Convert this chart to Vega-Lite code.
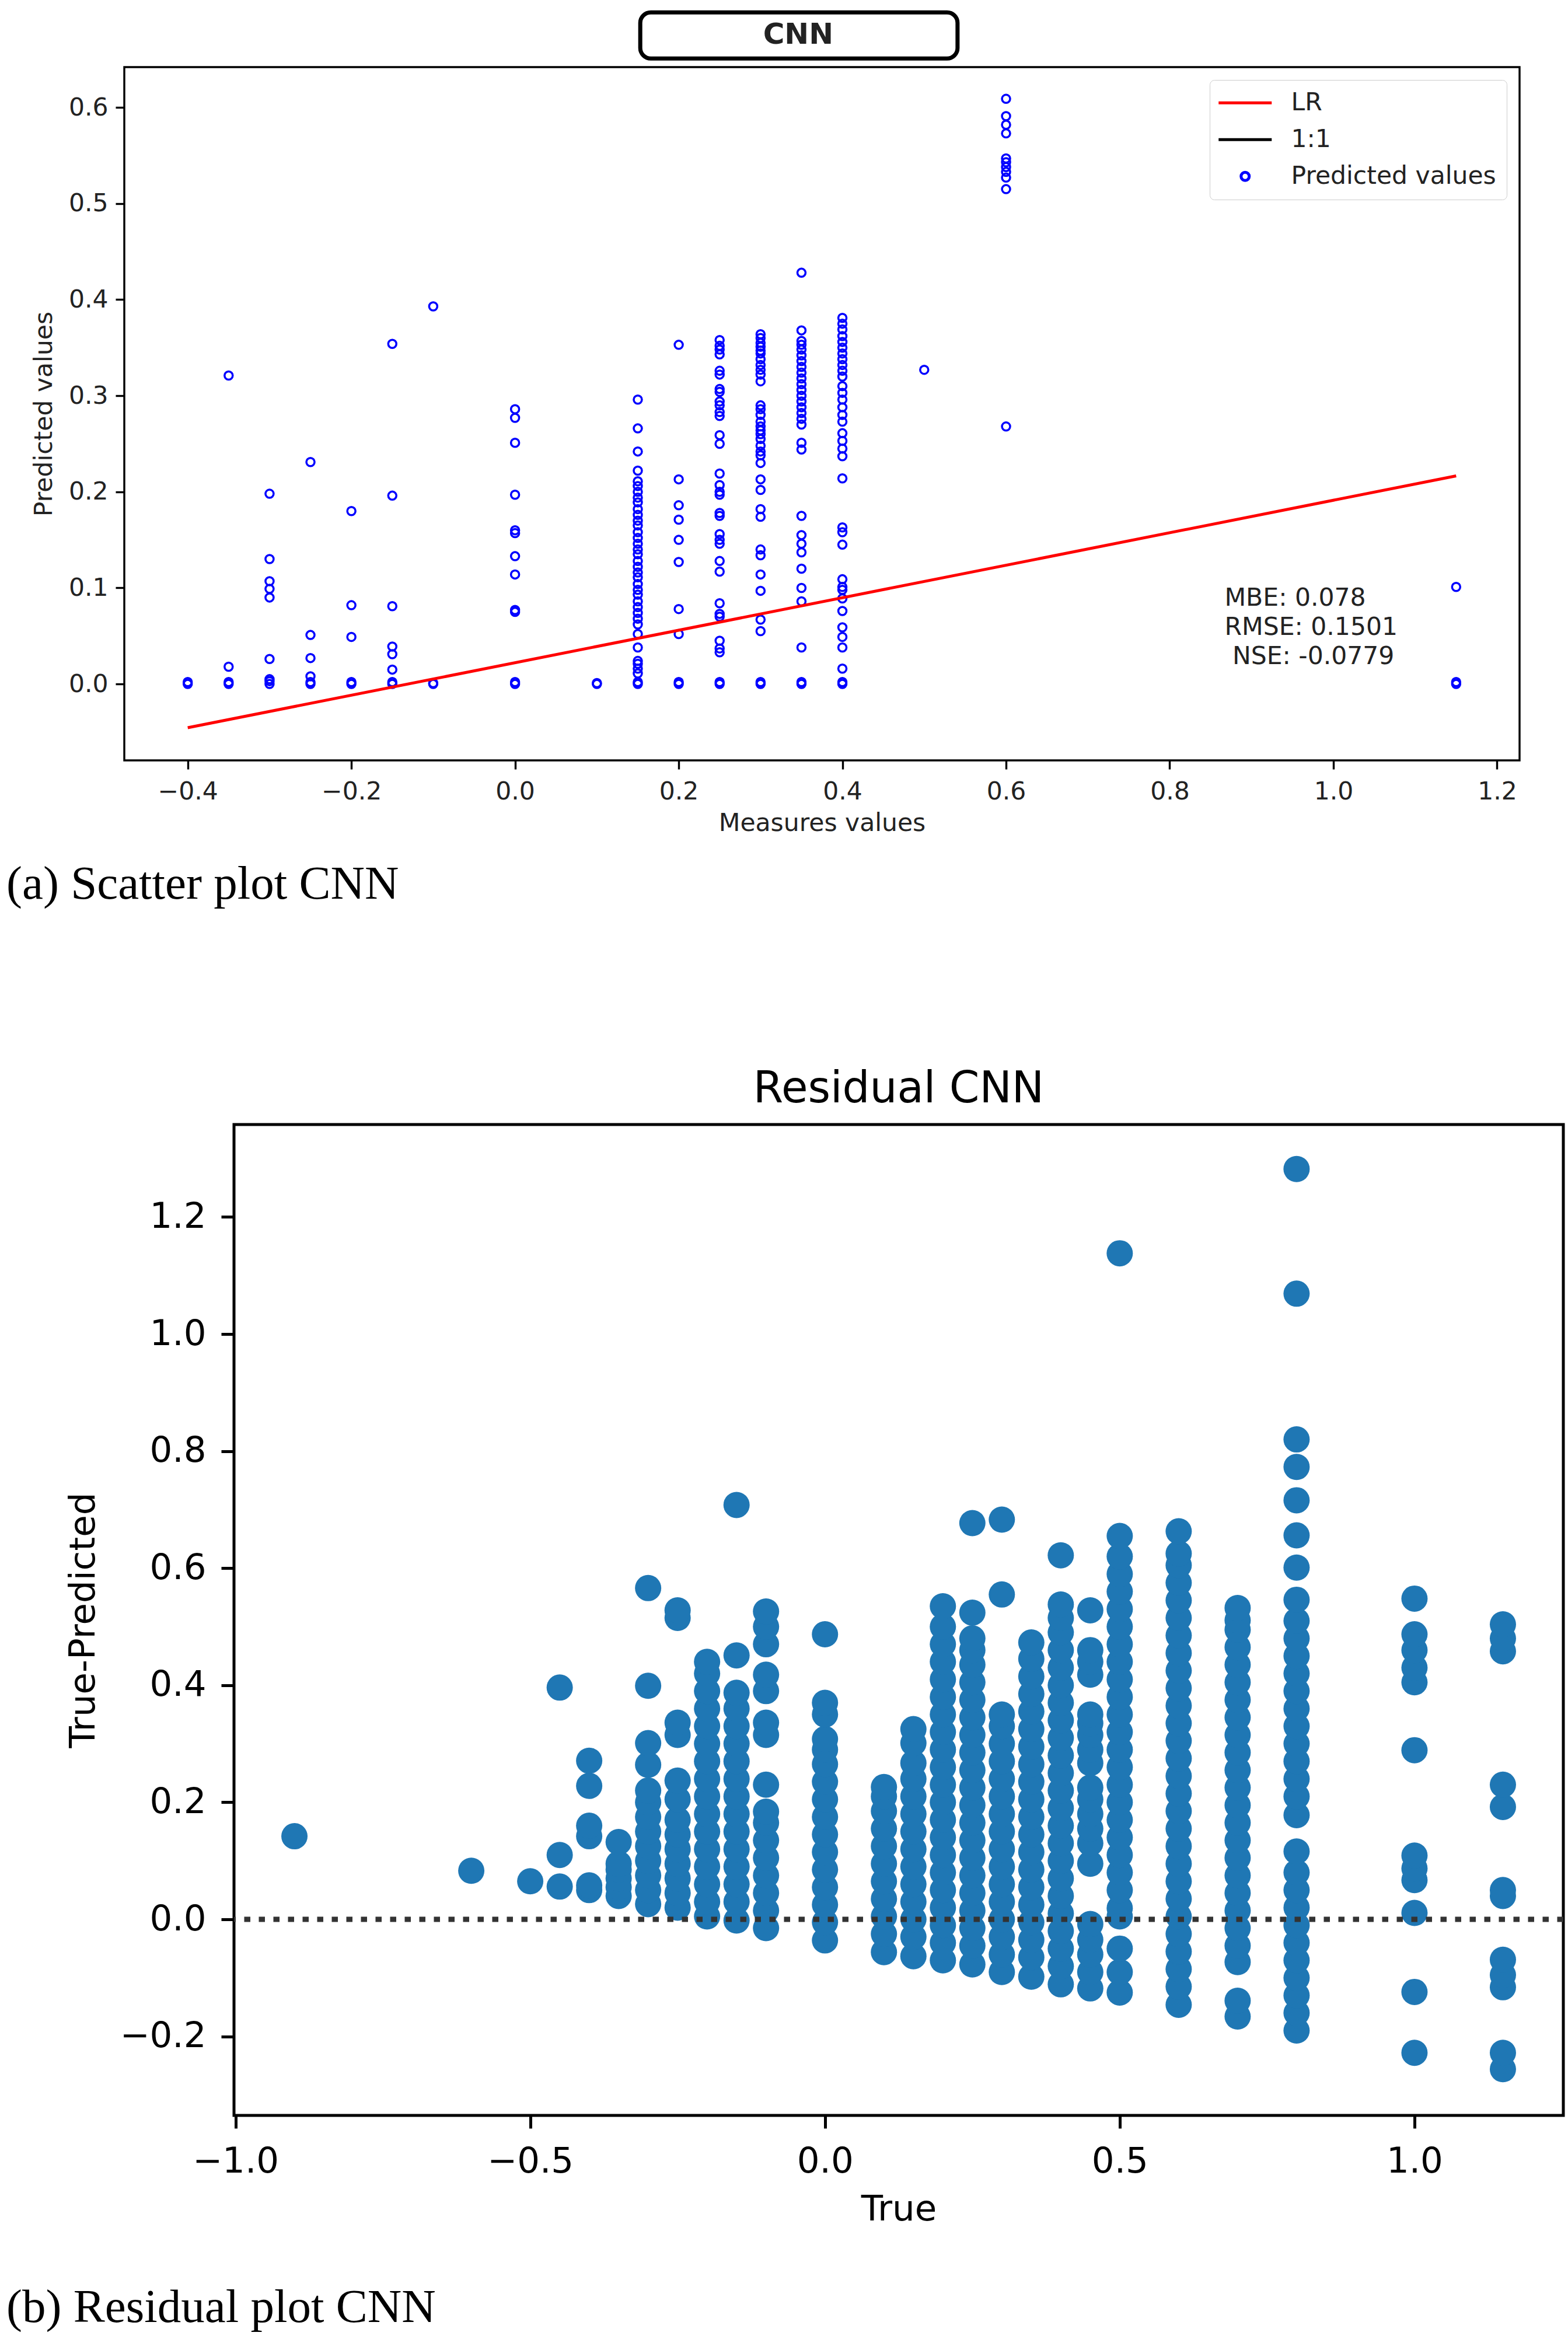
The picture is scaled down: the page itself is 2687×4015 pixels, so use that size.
{
  "$schema": "https://vega.github.io/schema/vega-lite/v6.json",
  "background": "white",
  "padding": {"left": 11, "top": 15, "right": 5, "bottom": 5},
  "config": {
    "font": "DejaVu Sans",
    "title": {"font": "DejaVu Sans", "fontWeight": "normal", "color": "black"}
  },
  "spacing": 271,
  "vconcat": [
    {
      "title": {"text": "(a) Scatter plot CNN", "orient": "bottom", "anchor": "start", "frame": "bounds", "font": "Liberation Serif", "fontSize": 81, "fontWeight": "normal", "color": "black", "baseline": "alphabetic", "offset": 106},
      "spacing": 0,
      "resolve": {"scale": {"color": "independent", "shape": "independent"}, "legend": {"color": "independent", "shape": "independent"}},
      "hconcat": [
        {"width": 41, "height": 1, "data": {"values": []}, "mark": "point", "view": {"stroke": null}},
        {
          "width": 2391,
          "height": 1188,
          "view": {"stroke": "black", "strokeWidth": 3.4, "fill": "white"},
          "layer": [
            {
              "data": {"values": [{}]},
              "mark": {"type": "rect", "fill": "white", "stroke": "black", "strokeWidth": 7, "cornerRadius": 18, "clip": false},
              "encoding": {
                "x": {"datum": 0.153, "type": "quantitative", "scale": {"domain": [-0.4775, 1.2275], "nice": false, "zero": false}},
                "x2": {"datum": 0.5407},
                "y": {"datum": 0.699, "type": "quantitative", "scale": {"domain": [-0.0795, 0.642], "nice": false, "zero": false}},
                "y2": {"datum": 0.651}
              }
            },
            {
              "data": {"values": [{}]},
              "mark": {"type": "text", "text": "CNN", "fontWeight": "bold", "fontSize": 50, "align": "center", "baseline": "alphabetic", "color": "#222222", "clip": false},
              "encoding": {
                "x": {"datum": 0.346, "type": "quantitative"},
                "y": {"datum": 0.6663, "type": "quantitative"}
              }
            },
            {
              "data": {
                "values": [
                  {"measured": -0.4, "predicted": 0}, {"measured": -0.4, "predicted": 0.002},
                  {"measured": -0.35, "predicted": 0}, {"measured": -0.35, "predicted": 0.002}, {"measured": -0.35, "predicted": 0.018}, {"measured": -0.35, "predicted": 0.321},
                  {"measured": -0.3, "predicted": 0}, {"measured": -0.3, "predicted": 0.003}, {"measured": -0.3, "predicted": 0.005}, {"measured": -0.3, "predicted": 0.026}, {"measured": -0.3, "predicted": 0.09}, {"measured": -0.3, "predicted": 0.099}, {"measured": -0.3, "predicted": 0.107}, {"measured": -0.3, "predicted": 0.13}, {"measured": -0.3, "predicted": 0.198},
                  {"measured": -0.25, "predicted": 0}, {"measured": -0.25, "predicted": 0.002}, {"measured": -0.25, "predicted": 0.008}, {"measured": -0.25, "predicted": 0.027}, {"measured": -0.25, "predicted": 0.051}, {"measured": -0.25, "predicted": 0.231},
                  {"measured": -0.2, "predicted": 0}, {"measured": -0.2, "predicted": 0.002}, {"measured": -0.2, "predicted": 0.049}, {"measured": -0.2, "predicted": 0.082}, {"measured": -0.2, "predicted": 0.18},
                  {"measured": -0.15, "predicted": 0}, {"measured": -0.15, "predicted": 0.002}, {"measured": -0.15, "predicted": 0.015}, {"measured": -0.15, "predicted": 0.031}, {"measured": -0.15, "predicted": 0.039}, {"measured": -0.15, "predicted": 0.081}, {"measured": -0.15, "predicted": 0.196}, {"measured": -0.15, "predicted": 0.354},
                  {"measured": -0.1, "predicted": 0}, {"measured": -0.1, "predicted": 0.001}, {"measured": -0.1, "predicted": 0.393},
                  {"measured": 0.0, "predicted": 0}, {"measured": 0.0, "predicted": 0.002}, {"measured": 0.0, "predicted": 0.075}, {"measured": 0.0, "predicted": 0.077}, {"measured": 0.0, "predicted": 0.114}, {"measured": 0.0, "predicted": 0.133}, {"measured": 0.0, "predicted": 0.157}, {"measured": 0.0, "predicted": 0.16}, {"measured": 0.0, "predicted": 0.197}, {"measured": 0.0, "predicted": 0.251}, {"measured": 0.0, "predicted": 0.277}, {"measured": 0.0, "predicted": 0.286},
                  {"measured": 0.1, "predicted": 0}, {"measured": 0.1, "predicted": 0.001},
                  {"measured": 0.15, "predicted": 0}, {"measured": 0.15, "predicted": 0.002}, {"measured": 0.15, "predicted": 0.011}, {"measured": 0.15, "predicted": 0.016}, {"measured": 0.15, "predicted": 0.021}, {"measured": 0.15, "predicted": 0.024}, {"measured": 0.15, "predicted": 0.038}, {"measured": 0.15, "predicted": 0.052}, {"measured": 0.15, "predicted": 0.062}, {"measured": 0.15, "predicted": 0.068}, {"measured": 0.15, "predicted": 0.074}, {"measured": 0.15, "predicted": 0.08}, {"measured": 0.15, "predicted": 0.086}, {"measured": 0.15, "predicted": 0.093}, {"measured": 0.15, "predicted": 0.098}, {"measured": 0.15, "predicted": 0.104}, {"measured": 0.15, "predicted": 0.111}, {"measured": 0.15, "predicted": 0.116}, {"measured": 0.15, "predicted": 0.122}, {"measured": 0.15, "predicted": 0.128}, {"measured": 0.15, "predicted": 0.135}, {"measured": 0.15, "predicted": 0.14}, {"measured": 0.15, "predicted": 0.146}, {"measured": 0.15, "predicted": 0.152}, {"measured": 0.15, "predicted": 0.158}, {"measured": 0.15, "predicted": 0.165}, {"measured": 0.15, "predicted": 0.17}, {"measured": 0.15, "predicted": 0.176}, {"measured": 0.15, "predicted": 0.182}, {"measured": 0.15, "predicted": 0.189}, {"measured": 0.15, "predicted": 0.194}, {"measured": 0.15, "predicted": 0.2}, {"measured": 0.15, "predicted": 0.206}, {"measured": 0.15, "predicted": 0.211}, {"measured": 0.15, "predicted": 0.222}, {"measured": 0.15, "predicted": 0.242}, {"measured": 0.15, "predicted": 0.266}, {"measured": 0.15, "predicted": 0.296},
                  {"measured": 0.2, "predicted": 0}, {"measured": 0.2, "predicted": 0.002}, {"measured": 0.2, "predicted": 0.052}, {"measured": 0.2, "predicted": 0.078}, {"measured": 0.2, "predicted": 0.127}, {"measured": 0.2, "predicted": 0.15}, {"measured": 0.2, "predicted": 0.171}, {"measured": 0.2, "predicted": 0.186}, {"measured": 0.2, "predicted": 0.213}, {"measured": 0.2, "predicted": 0.353},
                  {"measured": 0.25, "predicted": 0}, {"measured": 0.25, "predicted": 0.002}, {"measured": 0.25, "predicted": 0.033}, {"measured": 0.25, "predicted": 0.037}, {"measured": 0.25, "predicted": 0.045}, {"measured": 0.25, "predicted": 0.07}, {"measured": 0.25, "predicted": 0.073}, {"measured": 0.25, "predicted": 0.084}, {"measured": 0.25, "predicted": 0.117}, {"measured": 0.25, "predicted": 0.128}, {"measured": 0.25, "predicted": 0.146}, {"measured": 0.25, "predicted": 0.15}, {"measured": 0.25, "predicted": 0.156}, {"measured": 0.25, "predicted": 0.175}, {"measured": 0.25, "predicted": 0.178}, {"measured": 0.25, "predicted": 0.197}, {"measured": 0.25, "predicted": 0.2}, {"measured": 0.25, "predicted": 0.207}, {"measured": 0.25, "predicted": 0.219}, {"measured": 0.25, "predicted": 0.25}, {"measured": 0.25, "predicted": 0.259}, {"measured": 0.25, "predicted": 0.279}, {"measured": 0.25, "predicted": 0.283}, {"measured": 0.25, "predicted": 0.29}, {"measured": 0.25, "predicted": 0.294}, {"measured": 0.25, "predicted": 0.304}, {"measured": 0.25, "predicted": 0.307}, {"measured": 0.25, "predicted": 0.322}, {"measured": 0.25, "predicted": 0.326}, {"measured": 0.25, "predicted": 0.343}, {"measured": 0.25, "predicted": 0.348}, {"measured": 0.25, "predicted": 0.352}, {"measured": 0.25, "predicted": 0.358},
                  {"measured": 0.3, "predicted": 0}, {"measured": 0.3, "predicted": 0.002}, {"measured": 0.3, "predicted": 0.055}, {"measured": 0.3, "predicted": 0.067}, {"measured": 0.3, "predicted": 0.097}, {"measured": 0.3, "predicted": 0.114}, {"measured": 0.3, "predicted": 0.134}, {"measured": 0.3, "predicted": 0.14}, {"measured": 0.3, "predicted": 0.174}, {"measured": 0.3, "predicted": 0.182}, {"measured": 0.3, "predicted": 0.202}, {"measured": 0.3, "predicted": 0.213}, {"measured": 0.3, "predicted": 0.23}, {"measured": 0.3, "predicted": 0.238}, {"measured": 0.3, "predicted": 0.242}, {"measured": 0.3, "predicted": 0.248}, {"measured": 0.3, "predicted": 0.255}, {"measured": 0.3, "predicted": 0.26}, {"measured": 0.3, "predicted": 0.264}, {"measured": 0.3, "predicted": 0.268}, {"measured": 0.3, "predicted": 0.273}, {"measured": 0.3, "predicted": 0.28}, {"measured": 0.3, "predicted": 0.286}, {"measured": 0.3, "predicted": 0.29}, {"measured": 0.3, "predicted": 0.315}, {"measured": 0.3, "predicted": 0.322}, {"measured": 0.3, "predicted": 0.327}, {"measured": 0.3, "predicted": 0.332}, {"measured": 0.3, "predicted": 0.338}, {"measured": 0.3, "predicted": 0.344}, {"measured": 0.3, "predicted": 0.347}, {"measured": 0.3, "predicted": 0.351}, {"measured": 0.3, "predicted": 0.355}, {"measured": 0.3, "predicted": 0.36}, {"measured": 0.3, "predicted": 0.364},
                  {"measured": 0.35, "predicted": 0}, {"measured": 0.35, "predicted": 0.002}, {"measured": 0.35, "predicted": 0.038}, {"measured": 0.35, "predicted": 0.086}, {"measured": 0.35, "predicted": 0.1}, {"measured": 0.35, "predicted": 0.12}, {"measured": 0.35, "predicted": 0.137}, {"measured": 0.35, "predicted": 0.146}, {"measured": 0.35, "predicted": 0.155}, {"measured": 0.35, "predicted": 0.175}, {"measured": 0.35, "predicted": 0.244}, {"measured": 0.35, "predicted": 0.251}, {"measured": 0.35, "predicted": 0.27}, {"measured": 0.35, "predicted": 0.276}, {"measured": 0.35, "predicted": 0.282}, {"measured": 0.35, "predicted": 0.288}, {"measured": 0.35, "predicted": 0.294}, {"measured": 0.35, "predicted": 0.3}, {"measured": 0.35, "predicted": 0.306}, {"measured": 0.35, "predicted": 0.312}, {"measured": 0.35, "predicted": 0.318}, {"measured": 0.35, "predicted": 0.324}, {"measured": 0.35, "predicted": 0.33}, {"measured": 0.35, "predicted": 0.336}, {"measured": 0.35, "predicted": 0.342}, {"measured": 0.35, "predicted": 0.348}, {"measured": 0.35, "predicted": 0.353}, {"measured": 0.35, "predicted": 0.357}, {"measured": 0.35, "predicted": 0.368}, {"measured": 0.35, "predicted": 0.428},
                  {"measured": 0.4, "predicted": 0}, {"measured": 0.4, "predicted": 0.002}, {"measured": 0.4, "predicted": 0.016}, {"measured": 0.4, "predicted": 0.038}, {"measured": 0.4, "predicted": 0.049}, {"measured": 0.4, "predicted": 0.059}, {"measured": 0.4, "predicted": 0.076}, {"measured": 0.4, "predicted": 0.089}, {"measured": 0.4, "predicted": 0.098}, {"measured": 0.4, "predicted": 0.101}, {"measured": 0.4, "predicted": 0.109}, {"measured": 0.4, "predicted": 0.145}, {"measured": 0.4, "predicted": 0.158}, {"measured": 0.4, "predicted": 0.163}, {"measured": 0.4, "predicted": 0.214}, {"measured": 0.4, "predicted": 0.237}, {"measured": 0.4, "predicted": 0.245}, {"measured": 0.4, "predicted": 0.253}, {"measured": 0.4, "predicted": 0.261}, {"measured": 0.4, "predicted": 0.273}, {"measured": 0.4, "predicted": 0.28}, {"measured": 0.4, "predicted": 0.288}, {"measured": 0.4, "predicted": 0.296}, {"measured": 0.4, "predicted": 0.303}, {"measured": 0.4, "predicted": 0.31}, {"measured": 0.4, "predicted": 0.32}, {"measured": 0.4, "predicted": 0.326}, {"measured": 0.4, "predicted": 0.332}, {"measured": 0.4, "predicted": 0.338}, {"measured": 0.4, "predicted": 0.344}, {"measured": 0.4, "predicted": 0.35}, {"measured": 0.4, "predicted": 0.356}, {"measured": 0.4, "predicted": 0.362}, {"measured": 0.4, "predicted": 0.369}, {"measured": 0.4, "predicted": 0.375}, {"measured": 0.4, "predicted": 0.381},
                  {"measured": 0.5, "predicted": 0.327},
                  {"measured": 0.6, "predicted": 0.268}, {"measured": 0.6, "predicted": 0.515}, {"measured": 0.6, "predicted": 0.527}, {"measured": 0.6, "predicted": 0.533}, {"measured": 0.6, "predicted": 0.538}, {"measured": 0.6, "predicted": 0.543}, {"measured": 0.6, "predicted": 0.547}, {"measured": 0.6, "predicted": 0.573}, {"measured": 0.6, "predicted": 0.582}, {"measured": 0.6, "predicted": 0.591}, {"measured": 0.6, "predicted": 0.609},
                  {"measured": 1.15, "predicted": 0}, {"measured": 1.15, "predicted": 0.002}, {"measured": 1.15, "predicted": 0.101}
                ]
              },
              "mark": {"type": "point", "filled": false, "size": 196, "strokeWidth": 3.5, "opacity": 1},
              "encoding": {
                "x": {
                  "field": "measured", "type": "quantitative",
                  "scale": {"domain": [-0.4775, 1.2275], "nice": false, "zero": false},
                  "axis": {"title": "Measures values", "values": [-0.4, -0.2, 0, 0.2, 0.4, 0.6, 0.8, 1.0, 1.2], "format": ".1f", "grid": false, "domain": false, "labelFlush": false, "labelOverlap": false, "tickSize": 15, "tickWidth": 3.4, "tickColor": "black", "labelFontSize": 42.5, "labelPadding": 17, "labelColor": "#222222", "titleFontSize": 42.5, "titleFontWeight": "normal", "titleColor": "#222222", "titlePadding": 12}
                },
                "y": {
                  "field": "predicted", "type": "quantitative",
                  "scale": {"domain": [-0.0795, 0.642], "nice": false, "zero": false},
                  "axis": {"title": "Predicted values", "values": [0, 0.1, 0.2, 0.3, 0.4, 0.5, 0.6], "format": ".1f", "grid": false, "domain": false, "labelFlush": false, "labelOverlap": false, "tickSize": 15, "tickWidth": 3.4, "tickColor": "black", "labelFontSize": 42.5, "labelPadding": 13, "labelColor": "#222222", "titleFontSize": 42.5, "titleFontWeight": "normal", "titleColor": "#222222", "titlePadding": 20}
                },
                "color": {
                  "datum": "Predicted values", "type": "nominal",
                  "scale": {"domain": ["LR", "1:1", "Predicted values"], "range": ["#ff0000", "#000000", "#0000ff"]},
                  "legend": {
                    "title": null, "orient": "top-right", "offset": 22,
                    "padding": 18, "rowPadding": 20, "symbolOffset": 21.5, "labelOffset": 57.5, "labelLimit": 0, "labelFontSize": 42.5, "labelColor": "#222222", "labelFont": "DejaVu Sans",
                    "symbolSize": 196, "symbolStrokeWidth": 5, "symbolFillColor": "transparent",
                    "strokeColor": "#cccccc", "fillColor": "rgba(255,255,255,0.85)", "cornerRadius": 8
                  }
                },
                "shape": {
                  "datum": "Predicted values", "type": "nominal",
                  "scale": {"domain": ["LR", "1:1", "Predicted values"], "range": ["M-6.5,0H6.5", "M-6.5,0H6.5", "circle"]},
                  "legend": {"title": null, "orient": "top-right"}
                }
              }
            },
            {
              "data": {"values": [{"measured": -0.4, "predicted": -0.0455}, {"measured": 1.15, "predicted": 0.2166}]},
              "mark": {"type": "line", "strokeWidth": 5},
              "encoding": {
                "x": {"field": "measured", "type": "quantitative"},
                "y": {"field": "predicted", "type": "quantitative"},
                "color": {"datum": "LR", "type": "nominal"}
              }
            },
            {
              "data": {"values": [{}]},
              "mark": {"type": "text", "text": "MBE: 0.078\nRMSE: 0.1501", "lineBreak": "\n", "lineHeight": 50, "fontSize": 42.5, "align": "left", "baseline": "alphabetic", "color": "#222222"},
              "encoding": {
                "x": {"datum": 0.867, "type": "quantitative"},
                "y": {"datum": 0.0813, "type": "quantitative"}
              }
            },
            {
              "data": {"values": [{}]},
              "mark": {"type": "text", "text": "NSE: -0.0779", "fontSize": 42.5, "align": "left", "baseline": "alphabetic", "color": "#222222"},
              "encoding": {
                "x": {"datum": 0.8766, "type": "quantitative"},
                "y": {"datum": 0.0206, "type": "quantitative"}
              }
            }
          ]
        }
      ]
    },
    {
      "title": {"text": "(b) Residual plot CNN", "orient": "bottom", "anchor": "start", "frame": "bounds", "font": "Liberation Serif", "fontSize": 81, "fontWeight": "normal", "color": "black", "baseline": "alphabetic", "offset": 160},
      "spacing": 0,
      "hconcat": [
        {"width": 99, "height": 1, "data": {"values": []}, "mark": "point", "view": {"stroke": null}},
        {
          "width": 2278,
          "height": 1698,
          "title": {"text": "Residual CNN", "fontSize": 74, "fontWeight": "normal", "color": "black", "offset": 22, "anchor": "middle"},
          "view": {"stroke": "black", "strokeWidth": 5, "fill": "white"},
          "layer": [
            {
              "data": {
                "values": [
                  {"true": -0.9, "residual": 0.142},
                  {"true": -0.6, "residual": 0.083},
                  {"true": -0.5, "residual": 0.065},
                  {"true": -0.45, "residual": 0.056}, {"true": -0.45, "residual": 0.11}, {"true": -0.45, "residual": 0.396},
                  {"true": -0.4, "residual": 0.05}, {"true": -0.4, "residual": 0.058}, {"true": -0.4, "residual": 0.142}, {"true": -0.4, "residual": 0.16}, {"true": -0.4, "residual": 0.228}, {"true": -0.4, "residual": 0.271},
                  {"true": -0.35, "residual": 0.04}, {"true": -0.35, "residual": 0.055}, {"true": -0.35, "residual": 0.07}, {"true": -0.35, "residual": 0.085}, {"true": -0.35, "residual": 0.095}, {"true": -0.35, "residual": 0.132},
                  {"true": -0.3, "residual": 0.026}, {"true": -0.3, "residual": 0.05}, {"true": -0.3, "residual": 0.075}, {"true": -0.3, "residual": 0.1}, {"true": -0.3, "residual": 0.125}, {"true": -0.3, "residual": 0.15}, {"true": -0.3, "residual": 0.175}, {"true": -0.3, "residual": 0.2}, {"true": -0.3, "residual": 0.22}, {"true": -0.3, "residual": 0.264}, {"true": -0.3, "residual": 0.301}, {"true": -0.3, "residual": 0.399}, {"true": -0.3, "residual": 0.566},
                  {"true": -0.25, "residual": 0.02}, {"true": -0.25, "residual": 0.045}, {"true": -0.25, "residual": 0.07}, {"true": -0.25, "residual": 0.095}, {"true": -0.25, "residual": 0.12}, {"true": -0.25, "residual": 0.145}, {"true": -0.25, "residual": 0.17}, {"true": -0.25, "residual": 0.205}, {"true": -0.25, "residual": 0.237}, {"true": -0.25, "residual": 0.315}, {"true": -0.25, "residual": 0.336}, {"true": -0.25, "residual": 0.515}, {"true": -0.25, "residual": 0.528},
                  {"true": -0.2, "residual": 0.005}, {"true": -0.2, "residual": 0.03}, {"true": -0.2, "residual": 0.06}, {"true": -0.2, "residual": 0.09}, {"true": -0.2, "residual": 0.12}, {"true": -0.2, "residual": 0.15}, {"true": -0.2, "residual": 0.18}, {"true": -0.2, "residual": 0.21}, {"true": -0.2, "residual": 0.24}, {"true": -0.2, "residual": 0.27}, {"true": -0.2, "residual": 0.3}, {"true": -0.2, "residual": 0.33}, {"true": -0.2, "residual": 0.36}, {"true": -0.2, "residual": 0.39}, {"true": -0.2, "residual": 0.42}, {"true": -0.2, "residual": 0.44},
                  {"true": -0.15, "residual": -0.002}, {"true": -0.15, "residual": 0.03}, {"true": -0.15, "residual": 0.06}, {"true": -0.15, "residual": 0.09}, {"true": -0.15, "residual": 0.12}, {"true": -0.15, "residual": 0.15}, {"true": -0.15, "residual": 0.18}, {"true": -0.15, "residual": 0.21}, {"true": -0.15, "residual": 0.24}, {"true": -0.15, "residual": 0.27}, {"true": -0.15, "residual": 0.3}, {"true": -0.15, "residual": 0.33}, {"true": -0.15, "residual": 0.36}, {"true": -0.15, "residual": 0.387}, {"true": -0.15, "residual": 0.451}, {"true": -0.15, "residual": 0.708},
                  {"true": -0.1, "residual": -0.015}, {"true": -0.1, "residual": 0.015}, {"true": -0.1, "residual": 0.045}, {"true": -0.1, "residual": 0.075}, {"true": -0.1, "residual": 0.105}, {"true": -0.1, "residual": 0.135}, {"true": -0.1, "residual": 0.165}, {"true": -0.1, "residual": 0.184}, {"true": -0.1, "residual": 0.23}, {"true": -0.1, "residual": 0.315}, {"true": -0.1, "residual": 0.336}, {"true": -0.1, "residual": 0.39}, {"true": -0.1, "residual": 0.418}, {"true": -0.1, "residual": 0.47}, {"true": -0.1, "residual": 0.5}, {"true": -0.1, "residual": 0.526},
                  {"true": 0.0, "residual": -0.036}, {"true": 0.0, "residual": -0.005}, {"true": 0.0, "residual": 0.025}, {"true": 0.0, "residual": 0.055}, {"true": 0.0, "residual": 0.085}, {"true": 0.0, "residual": 0.115}, {"true": 0.0, "residual": 0.145}, {"true": 0.0, "residual": 0.175}, {"true": 0.0, "residual": 0.205}, {"true": 0.0, "residual": 0.235}, {"true": 0.0, "residual": 0.265}, {"true": 0.0, "residual": 0.29}, {"true": 0.0, "residual": 0.308}, {"true": 0.0, "residual": 0.35}, {"true": 0.0, "residual": 0.37}, {"true": 0.0, "residual": 0.487},
                  {"true": 0.1, "residual": -0.056}, {"true": 0.1, "residual": -0.025}, {"true": 0.1, "residual": 0.005}, {"true": 0.1, "residual": 0.035}, {"true": 0.1, "residual": 0.065}, {"true": 0.1, "residual": 0.095}, {"true": 0.1, "residual": 0.125}, {"true": 0.1, "residual": 0.155}, {"true": 0.1, "residual": 0.185}, {"true": 0.1, "residual": 0.21}, {"true": 0.1, "residual": 0.226},
                  {"true": 0.15, "residual": -0.063}, {"true": 0.15, "residual": -0.03}, {"true": 0.15, "residual": 0.0}, {"true": 0.15, "residual": 0.03}, {"true": 0.15, "residual": 0.06}, {"true": 0.15, "residual": 0.09}, {"true": 0.15, "residual": 0.12}, {"true": 0.15, "residual": 0.15}, {"true": 0.15, "residual": 0.18}, {"true": 0.15, "residual": 0.21}, {"true": 0.15, "residual": 0.24}, {"true": 0.15, "residual": 0.267}, {"true": 0.15, "residual": 0.301}, {"true": 0.15, "residual": 0.325},
                  {"true": 0.2, "residual": -0.07}, {"true": 0.2, "residual": -0.04}, {"true": 0.2, "residual": -0.01}, {"true": 0.2, "residual": 0.02}, {"true": 0.2, "residual": 0.05}, {"true": 0.2, "residual": 0.08}, {"true": 0.2, "residual": 0.11}, {"true": 0.2, "residual": 0.14}, {"true": 0.2, "residual": 0.17}, {"true": 0.2, "residual": 0.2}, {"true": 0.2, "residual": 0.23}, {"true": 0.2, "residual": 0.26}, {"true": 0.2, "residual": 0.29}, {"true": 0.2, "residual": 0.32}, {"true": 0.2, "residual": 0.35}, {"true": 0.2, "residual": 0.38}, {"true": 0.2, "residual": 0.41}, {"true": 0.2, "residual": 0.44}, {"true": 0.2, "residual": 0.47}, {"true": 0.2, "residual": 0.5}, {"true": 0.2, "residual": 0.535},
                  {"true": 0.25, "residual": -0.077}, {"true": 0.25, "residual": -0.045}, {"true": 0.25, "residual": -0.015}, {"true": 0.25, "residual": 0.015}, {"true": 0.25, "residual": 0.045}, {"true": 0.25, "residual": 0.075}, {"true": 0.25, "residual": 0.105}, {"true": 0.25, "residual": 0.135}, {"true": 0.25, "residual": 0.165}, {"true": 0.25, "residual": 0.195}, {"true": 0.25, "residual": 0.225}, {"true": 0.25, "residual": 0.255}, {"true": 0.25, "residual": 0.285}, {"true": 0.25, "residual": 0.315}, {"true": 0.25, "residual": 0.345}, {"true": 0.25, "residual": 0.375}, {"true": 0.25, "residual": 0.405}, {"true": 0.25, "residual": 0.435}, {"true": 0.25, "residual": 0.46}, {"true": 0.25, "residual": 0.48}, {"true": 0.25, "residual": 0.524}, {"true": 0.25, "residual": 0.677},
                  {"true": 0.3, "residual": -0.09}, {"true": 0.3, "residual": -0.06}, {"true": 0.3, "residual": -0.03}, {"true": 0.3, "residual": 0.0}, {"true": 0.3, "residual": 0.03}, {"true": 0.3, "residual": 0.06}, {"true": 0.3, "residual": 0.09}, {"true": 0.3, "residual": 0.12}, {"true": 0.3, "residual": 0.15}, {"true": 0.3, "residual": 0.18}, {"true": 0.3, "residual": 0.21}, {"true": 0.3, "residual": 0.24}, {"true": 0.3, "residual": 0.27}, {"true": 0.3, "residual": 0.3}, {"true": 0.3, "residual": 0.33}, {"true": 0.3, "residual": 0.35}, {"true": 0.3, "residual": 0.555}, {"true": 0.3, "residual": 0.683},
                  {"true": 0.35, "residual": -0.098}, {"true": 0.35, "residual": -0.065}, {"true": 0.35, "residual": -0.035}, {"true": 0.35, "residual": -0.005}, {"true": 0.35, "residual": 0.025}, {"true": 0.35, "residual": 0.055}, {"true": 0.35, "residual": 0.085}, {"true": 0.35, "residual": 0.115}, {"true": 0.35, "residual": 0.145}, {"true": 0.35, "residual": 0.175}, {"true": 0.35, "residual": 0.205}, {"true": 0.35, "residual": 0.235}, {"true": 0.35, "residual": 0.265}, {"true": 0.35, "residual": 0.295}, {"true": 0.35, "residual": 0.325}, {"true": 0.35, "residual": 0.355}, {"true": 0.35, "residual": 0.385}, {"true": 0.35, "residual": 0.415}, {"true": 0.35, "residual": 0.445}, {"true": 0.35, "residual": 0.473},
                  {"true": 0.4, "residual": -0.111}, {"true": 0.4, "residual": -0.08}, {"true": 0.4, "residual": -0.05}, {"true": 0.4, "residual": -0.02}, {"true": 0.4, "residual": 0.01}, {"true": 0.4, "residual": 0.04}, {"true": 0.4, "residual": 0.07}, {"true": 0.4, "residual": 0.1}, {"true": 0.4, "residual": 0.13}, {"true": 0.4, "residual": 0.16}, {"true": 0.4, "residual": 0.19}, {"true": 0.4, "residual": 0.22}, {"true": 0.4, "residual": 0.25}, {"true": 0.4, "residual": 0.28}, {"true": 0.4, "residual": 0.31}, {"true": 0.4, "residual": 0.34}, {"true": 0.4, "residual": 0.37}, {"true": 0.4, "residual": 0.4}, {"true": 0.4, "residual": 0.43}, {"true": 0.4, "residual": 0.46}, {"true": 0.4, "residual": 0.49}, {"true": 0.4, "residual": 0.515}, {"true": 0.4, "residual": 0.538}, {"true": 0.4, "residual": 0.622},
                  {"true": 0.45, "residual": -0.118}, {"true": 0.45, "residual": -0.09}, {"true": 0.45, "residual": -0.06}, {"true": 0.45, "residual": -0.035}, {"true": 0.45, "residual": -0.008}, {"true": 0.45, "residual": 0.095}, {"true": 0.45, "residual": 0.13}, {"true": 0.45, "residual": 0.155}, {"true": 0.45, "residual": 0.18}, {"true": 0.45, "residual": 0.205}, {"true": 0.45, "residual": 0.225}, {"true": 0.45, "residual": 0.267}, {"true": 0.45, "residual": 0.29}, {"true": 0.45, "residual": 0.315}, {"true": 0.45, "residual": 0.335}, {"true": 0.45, "residual": 0.35}, {"true": 0.45, "residual": 0.418}, {"true": 0.45, "residual": 0.44}, {"true": 0.45, "residual": 0.46}, {"true": 0.45, "residual": 0.528},
                  {"true": 0.5, "residual": -0.125}, {"true": 0.5, "residual": -0.09}, {"true": 0.5, "residual": -0.05}, {"true": 0.5, "residual": 0.005}, {"true": 0.5, "residual": 0.019}, {"true": 0.5, "residual": 0.05}, {"true": 0.5, "residual": 0.08}, {"true": 0.5, "residual": 0.11}, {"true": 0.5, "residual": 0.14}, {"true": 0.5, "residual": 0.17}, {"true": 0.5, "residual": 0.2}, {"true": 0.5, "residual": 0.23}, {"true": 0.5, "residual": 0.26}, {"true": 0.5, "residual": 0.29}, {"true": 0.5, "residual": 0.32}, {"true": 0.5, "residual": 0.35}, {"true": 0.5, "residual": 0.38}, {"true": 0.5, "residual": 0.41}, {"true": 0.5, "residual": 0.44}, {"true": 0.5, "residual": 0.47}, {"true": 0.5, "residual": 0.5}, {"true": 0.5, "residual": 0.53}, {"true": 0.5, "residual": 0.56}, {"true": 0.5, "residual": 0.59}, {"true": 0.5, "residual": 0.62}, {"true": 0.5, "residual": 0.655}, {"true": 0.5, "residual": 1.138},
                  {"true": 0.6, "residual": -0.146}, {"true": 0.6, "residual": -0.115}, {"true": 0.6, "residual": -0.085}, {"true": 0.6, "residual": -0.055}, {"true": 0.6, "residual": -0.025}, {"true": 0.6, "residual": 0.005}, {"true": 0.6, "residual": 0.035}, {"true": 0.6, "residual": 0.065}, {"true": 0.6, "residual": 0.095}, {"true": 0.6, "residual": 0.125}, {"true": 0.6, "residual": 0.155}, {"true": 0.6, "residual": 0.185}, {"true": 0.6, "residual": 0.215}, {"true": 0.6, "residual": 0.245}, {"true": 0.6, "residual": 0.275}, {"true": 0.6, "residual": 0.305}, {"true": 0.6, "residual": 0.335}, {"true": 0.6, "residual": 0.365}, {"true": 0.6, "residual": 0.395}, {"true": 0.6, "residual": 0.425}, {"true": 0.6, "residual": 0.455}, {"true": 0.6, "residual": 0.485}, {"true": 0.6, "residual": 0.515}, {"true": 0.6, "residual": 0.545}, {"true": 0.6, "residual": 0.575}, {"true": 0.6, "residual": 0.605}, {"true": 0.6, "residual": 0.625}, {"true": 0.6, "residual": 0.663},
                  {"true": 0.7, "residual": -0.166}, {"true": 0.7, "residual": -0.139}, {"true": 0.7, "residual": -0.073}, {"true": 0.7, "residual": -0.045}, {"true": 0.7, "residual": -0.015}, {"true": 0.7, "residual": 0.015}, {"true": 0.7, "residual": 0.045}, {"true": 0.7, "residual": 0.075}, {"true": 0.7, "residual": 0.105}, {"true": 0.7, "residual": 0.135}, {"true": 0.7, "residual": 0.165}, {"true": 0.7, "residual": 0.195}, {"true": 0.7, "residual": 0.225}, {"true": 0.7, "residual": 0.255}, {"true": 0.7, "residual": 0.285}, {"true": 0.7, "residual": 0.315}, {"true": 0.7, "residual": 0.345}, {"true": 0.7, "residual": 0.375}, {"true": 0.7, "residual": 0.405}, {"true": 0.7, "residual": 0.435}, {"true": 0.7, "residual": 0.465}, {"true": 0.7, "residual": 0.495}, {"true": 0.7, "residual": 0.511}, {"true": 0.7, "residual": 0.532},
                  {"true": 0.8, "residual": -0.19}, {"true": 0.8, "residual": -0.16}, {"true": 0.8, "residual": -0.13}, {"true": 0.8, "residual": -0.1}, {"true": 0.8, "residual": -0.07}, {"true": 0.8, "residual": -0.04}, {"true": 0.8, "residual": -0.01}, {"true": 0.8, "residual": 0.02}, {"true": 0.8, "residual": 0.05}, {"true": 0.8, "residual": 0.08}, {"true": 0.8, "residual": 0.116}, {"true": 0.8, "residual": 0.178}, {"true": 0.8, "residual": 0.21}, {"true": 0.8, "residual": 0.24}, {"true": 0.8, "residual": 0.27}, {"true": 0.8, "residual": 0.3}, {"true": 0.8, "residual": 0.33}, {"true": 0.8, "residual": 0.36}, {"true": 0.8, "residual": 0.39}, {"true": 0.8, "residual": 0.42}, {"true": 0.8, "residual": 0.45}, {"true": 0.8, "residual": 0.48}, {"true": 0.8, "residual": 0.51}, {"true": 0.8, "residual": 0.546}, {"true": 0.8, "residual": 0.601}, {"true": 0.8, "residual": 0.656}, {"true": 0.8, "residual": 0.716}, {"true": 0.8, "residual": 0.773}, {"true": 0.8, "residual": 0.82}, {"true": 0.8, "residual": 1.069}, {"true": 0.8, "residual": 1.282},
                  {"true": 1.0, "residual": -0.228}, {"true": 1.0, "residual": -0.124}, {"true": 1.0, "residual": 0.011}, {"true": 1.0, "residual": 0.067}, {"true": 1.0, "residual": 0.087}, {"true": 1.0, "residual": 0.109}, {"true": 1.0, "residual": 0.289}, {"true": 1.0, "residual": 0.405}, {"true": 1.0, "residual": 0.43}, {"true": 1.0, "residual": 0.46}, {"true": 1.0, "residual": 0.487}, {"true": 1.0, "residual": 0.548},
                  {"true": 1.15, "residual": -0.256}, {"true": 1.15, "residual": -0.228}, {"true": 1.15, "residual": -0.116}, {"true": 1.15, "residual": -0.095}, {"true": 1.15, "residual": -0.069}, {"true": 1.15, "residual": 0.04}, {"true": 1.15, "residual": 0.05}, {"true": 1.15, "residual": 0.192}, {"true": 1.15, "residual": 0.23}, {"true": 1.15, "residual": 0.458}, {"true": 1.15, "residual": 0.48}, {"true": 1.15, "residual": 0.504}
                ]
              },
              "mark": {"type": "circle", "size": 2025, "opacity": 1, "color": "#1f77b4"},
              "encoding": {
                "x": {
                  "field": "true", "type": "quantitative",
                  "scale": {"domain": [-1.0025, 1.2525], "nice": false, "zero": false},
                  "axis": {"title": "True", "values": [-1.0, -0.5, 0, 0.5, 1.0], "format": ".1f", "grid": false, "domain": false, "labelFlush": false, "labelOverlap": false, "tickSize": 22, "tickWidth": 5, "tickColor": "black", "labelFontSize": 61, "labelPadding": 27, "labelColor": "black", "titleFontSize": 61, "titleFontWeight": "normal", "titleColor": "black", "titlePadding": 22}
                },
                "y": {
                  "field": "residual", "type": "quantitative",
                  "scale": {"domain": [-0.335, 1.358], "nice": false, "zero": false},
                  "axis": {"title": "True-Predicted", "values": [-0.2, 0, 0.2, 0.4, 0.6, 0.8, 1.0, 1.2], "format": ".1f", "grid": false, "domain": false, "labelFlush": false, "labelOverlap": false, "tickSize": 22, "tickWidth": 5, "tickColor": "black", "labelFontSize": 61, "labelPadding": 26, "labelColor": "black", "titleFontSize": 61, "titleFontWeight": "normal", "titleColor": "black", "titlePadding": 30}
                }
              }
            },
            {
              "data": {"values": [{}]},
              "mark": {"type": "rule", "color": "#333333", "strokeWidth": 9, "strokeDash": [10.5, 14.5]},
              "encoding": {
                "y": {"datum": 0, "type": "quantitative"}
              }
            }
          ]
        }
      ]
    }
  ]
}
